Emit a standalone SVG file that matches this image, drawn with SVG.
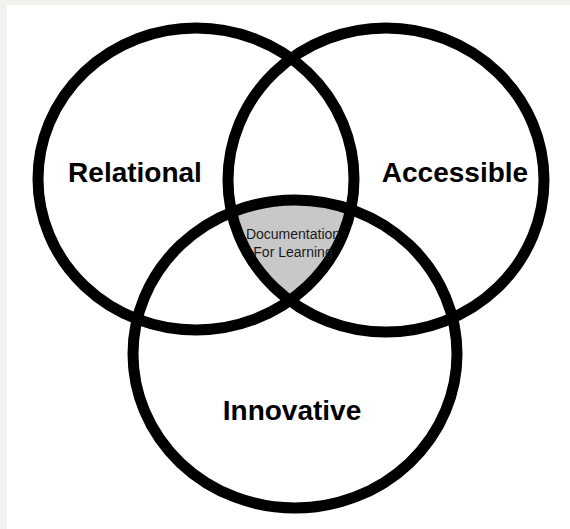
<svg xmlns="http://www.w3.org/2000/svg" width="570" height="529" viewBox="0 0 570 529">
  <style>
    .ring { fill: none; stroke: #000; stroke-width: 11; }
    .label { font-family: "Liberation Sans", Arial, sans-serif; font-weight: bold; font-size: 28px; fill: #000; text-anchor: middle; }
    .core { font-family: "Liberation Sans", Arial, sans-serif; font-size: 14px; fill: #1a1a1a; text-anchor: middle; }
  </style>
  <defs>
    <clipPath id="clipLeft"><ellipse cx="196" cy="179" rx="158" ry="151"/></clipPath>
    <clipPath id="clipRight"><ellipse cx="386" cy="180" rx="158" ry="152"/></clipPath>
  </defs>
  <!-- page backdrop -->
  <rect x="0" y="0" width="570" height="529" fill="#f2f1ed"/>
  <rect x="7" y="5" width="563" height="524" fill="#ffffff"/>

  <!-- shared centre region of all three circles -->
  <g id="centre-region" clip-path="url(#clipLeft)">
    <g clip-path="url(#clipRight)">
      <ellipse cx="295" cy="354" rx="162" ry="154" fill="#c8c8c8"/>
    </g>
  </g>

  <g id="connectors"></g>

  <g id="relational">
    <ellipse class="ring" cx="196" cy="179" rx="158" ry="151"/>
    <text class="label" x="135" y="182">Relational</text>
  </g>
  <g id="accessible">
    <ellipse class="ring" cx="386" cy="180" rx="158" ry="152"/>
    <text class="label" x="455" y="182">Accessible</text>
  </g>
  <g id="innovative">
    <ellipse class="ring" cx="295" cy="354" rx="162" ry="154"/>
    <text class="label" x="292" y="420">Innovative</text>
  </g>
  <g id="documentation">
    <text class="core" x="293" y="239">Documentation</text>
    <text class="core" x="293" y="257">For Learning</text>
  </g>
</svg>
